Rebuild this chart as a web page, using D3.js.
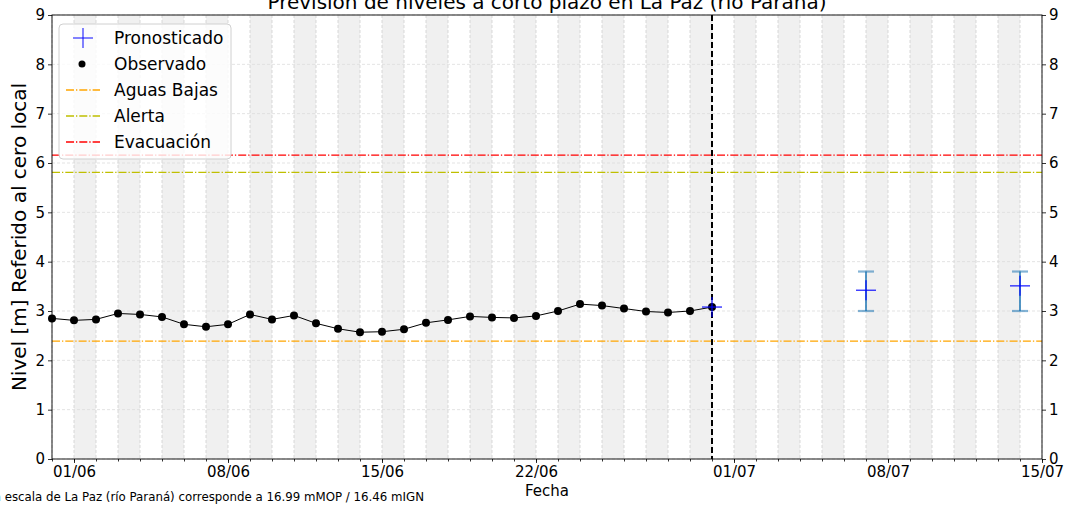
<!DOCTYPE html>
<html><head><meta charset="utf-8">
<script src="https://cdn.jsdelivr.net/npm/d3@7"></script>
<style>body{margin:0;background:#fff;}svg{display:block;font-family:"DejaVu Sans",sans-serif;}</style>
</head><body><svg id="c" width="1069" height="506"></svg>
<script>
const obsDates = ["2024-05-31","2024-06-01","2024-06-02","2024-06-03","2024-06-04","2024-06-05","2024-06-06","2024-06-07","2024-06-08","2024-06-09","2024-06-10","2024-06-11","2024-06-12","2024-06-13","2024-06-14","2024-06-15","2024-06-16","2024-06-17","2024-06-18","2024-06-19","2024-06-20","2024-06-21","2024-06-22","2024-06-23","2024-06-24","2024-06-25","2024-06-26","2024-06-27","2024-06-28","2024-06-29","2024-06-30"];
const obsValues = [2.85,2.81,2.83,2.95,2.93,2.88,2.73,2.68,2.73,2.93,2.83,2.91,2.75,2.64,2.57,2.58,2.63,2.76,2.82,2.89,2.87,2.86,2.90,3.00,3.14,3.11,3.05,2.99,2.97,3.00,3.08];
const fcDates = ["2024-06-30","2024-07-07","2024-07-14"];
const fcValues = [3.08,3.42,3.51];
const fcLow = [null,3.00,3.00];
const fcHigh = [null,3.80,3.80];
const thrNames = ["Aguas Bajas","Alerta","Evacuación"];
const thrValues = [2.39,5.81,6.16];
const thrColors = ["#ffa500","#bfbf00","#ff0000"];
const xStart = "2024-05-31", xEnd = "2024-07-15", nowDate = "2024-06-30";
const xTickDates = ["2024-06-01","2024-06-08","2024-06-15","2024-06-22","2024-07-01","2024-07-08","2024-07-15"];
const yTicks = [0,1,2,3,4,5,6,7,8,9];
const title = "Previsión de niveles a corto plazo en La Paz (río Paraná)";
const yLabel = "Nivel [m] Referido al cero local";
const xLabel = "Fecha";
const footer = "El cero de la escala de La Paz (río Paraná) corresponde a 16.99 mMOP / 16.46 mIGN";

const P = d3.utcParse("%Y-%m-%d");
const L = 52, R = 1042, T = 15, B = 459;
const svg = d3.select("#c");
const x = d3.scaleUtc().domain([P(xStart), P(xEnd)]).range([L, R]);
const y = d3.scaleLinear().domain([0, 9]).range([B, T]);

// shaded bands every other day
const bandStarts = d3.utcDay.range(P("2024-06-01"), P(xEnd), 2);
svg.append("g").selectAll("rect").data(bandStarts).join("rect")
  .attr("x", d => x(d)).attr("y", T)
  .attr("width", d => Math.min(x(d3.utcDay.offset(d,1)), R) - x(d)).attr("height", B - T)
  .attr("fill", "#f0f0f0");

// grid
const days = d3.utcDay.range(P(xStart), d3.utcDay.offset(P(xEnd),1));
svg.append("g").selectAll("line").data(days).join("line")
  .attr("x1", d => x(d)).attr("x2", d => x(d)).attr("y1", T).attr("y2", B)
  .attr("stroke", "#cfcfcf").attr("stroke-width", 0.8).attr("stroke-dasharray", "3,2");
svg.append("g").selectAll("line").data(yTicks).join("line")
  .attr("x1", L).attr("x2", R).attr("y1", d => y(d)).attr("y2", d => y(d))
  .attr("stroke", "#dcdcdc").attr("stroke-width", 0.8).attr("stroke-dasharray", "3,2");

// threshold lines
thrValues.forEach((v, i) => {
  svg.append("line").attr("x1", L).attr("x2", R).attr("y1", y(v)).attr("y2", y(v))
    .attr("stroke", thrColors[i]).attr("stroke-width", 1.3).attr("stroke-dasharray", "8,2,1.3,2");
});

// observed
const obs = obsDates.map((d, i) => ({d: P(d), v: obsValues[i]}));
svg.append("path").datum(obs)
  .attr("d", d3.line().x(d => x(d.d)).y(d => y(d.v)))
  .attr("fill", "none").attr("stroke", "#000").attr("stroke-width", 1);
svg.append("g").selectAll("circle").data(obs).join("circle")
  .attr("cx", d => x(d.d)).attr("cy", d => y(d.v)).attr("r", 4).attr("fill", "#000");

// now line
svg.append("line").attr("x1", x(P(nowDate))).attr("x2", x(P(nowDate))).attr("y1", T).attr("y2", B)
  .attr("stroke", "#000").attr("stroke-width", 2).attr("stroke-dasharray", "6,3");

// forecast
const fc = fcDates.map((d, i) => ({d: P(d), v: fcValues[i], lo: fcLow[i], hi: fcHigh[i]}));
const eb = svg.append("g");
fc.filter(d => d.lo != null).forEach(d => {
  const cx = x(d.d);
  eb.append("line").attr("x1", cx).attr("x2", cx).attr("y1", y(d.lo)).attr("y2", y(d.hi))
    .attr("stroke", "#1f77b4").attr("stroke-opacity", 0.85).attr("stroke-width", 1.8);
  [d.lo, d.hi].forEach(c => eb.append("line").attr("x1", cx - 8).attr("x2", cx + 8).attr("y1", y(c)).attr("y2", y(c))
    .attr("stroke", "#1f77b4").attr("stroke-opacity", 0.55).attr("stroke-width", 2.2));
});
fc.forEach(d => {
  const cx = x(d.d), cy = y(d.v);
  eb.append("line").attr("x1", cx - 10).attr("x2", cx + 10).attr("y1", cy).attr("y2", cy)
    .attr("stroke", "#0000ff").attr("stroke-opacity", 0.75).attr("stroke-width", 1.5);
  eb.append("line").attr("x1", cx).attr("x2", cx).attr("y1", cy - 10).attr("y2", cy + 10)
    .attr("stroke", "#0000ff").attr("stroke-opacity", 0.75).attr("stroke-width", 1.5);
});

// axes
const fmt = d3.utcFormat("%d/%m");
const xAxis = d3.axisBottom(x).tickValues(xTickDates.map(P)).tickFormat(fmt).tickSize(4).tickPadding(3);
const gx = svg.append("g").attr("transform", `translate(0,${B})`).call(xAxis);
const gxm = svg.append("g").attr("transform", `translate(0,${B})`)
  .call(d3.axisBottom(x).tickValues(days.filter(d => d <= P(xEnd))).tickFormat("").tickSize(2.5));
gxm.select(".domain").remove();
const gyl = svg.append("g").attr("transform", `translate(${L},0)`)
  .call(d3.axisLeft(y).tickValues(yTicks).tickSize(4).tickPadding(3));
const gyr = svg.append("g").attr("transform", `translate(${R},0)`)
  .call(d3.axisRight(y).tickValues(yTicks).tickSize(4).tickPadding(3));
[gx, gxm, gyl, gyr].forEach(g => {
  g.selectAll("text").attr("font-size", 15).attr("fill", "#000").attr("font-family", "DejaVu Sans");
  g.selectAll("line").attr("stroke", "#000").attr("stroke-width", 0.8);
  g.select(".domain").attr("stroke", "none");
});
svg.append("rect").attr("x", L).attr("y", T).attr("width", R - L).attr("height", B - T)
  .attr("fill", "none").attr("stroke", "#000").attr("stroke-width", 0.9);

// texts
svg.append("text").attr("x", (L + R) / 2).attr("y", 9).attr("text-anchor", "middle")
  .attr("font-size", 20).text(title);
svg.append("text").attr("transform", `translate(26,${(T + B) / 2}) rotate(-90)`).attr("text-anchor", "middle")
  .attr("font-size", 20).text(yLabel);
svg.append("text").attr("x", (L + R) / 2).attr("y", 496).attr("text-anchor", "middle")
  .attr("font-size", 15).text(xLabel);
svg.append("text").attr("x", 424).attr("y", 501).attr("text-anchor", "end")
  .attr("font-size", 11.8).text(footer);

// legend
const lg = svg.append("g");
lg.append("rect").attr("x", 59).attr("y", 24).attr("width", 172).attr("height", 135).attr("rx", 4)
  .attr("fill", "#fff").attr("fill-opacity", 0.8).attr("stroke", "#d0d0d0").attr("stroke-width", 1);
const rowY = i => 38 + i * 26;
const hx = 83;
// Pronosticado
lg.append("line").attr("x1", hx - 10).attr("x2", hx + 10).attr("y1", rowY(0)).attr("y2", rowY(0)).attr("stroke", "#0000ff").attr("stroke-opacity", 0.75).attr("stroke-width", 1.3);
lg.append("line").attr("x1", hx).attr("x2", hx).attr("y1", rowY(0) - 10).attr("y2", rowY(0) + 10).attr("stroke", "#0000ff").attr("stroke-opacity", 0.75).attr("stroke-width", 1.3);
lg.append("circle").attr("cx", hx - 1).attr("cy", rowY(1)).attr("r", 3.5).attr("fill", "#000");
thrNames.forEach((n, i) => {
  lg.append("line").attr("x1", 66).attr("x2", 100).attr("y1", rowY(i + 2)).attr("y2", rowY(i + 2))
    .attr("stroke", thrColors[i]).attr("stroke-width", 1.3).attr("stroke-dasharray", "8,2,1.3,2");
});
const names = ["Pronosticado", "Observado"].concat(thrNames);
names.forEach((n, i) => {
  lg.append("text").attr("x", 114).attr("y", rowY(i) + 6).attr("font-size", 17).text(n);
});
</script></body></html>
